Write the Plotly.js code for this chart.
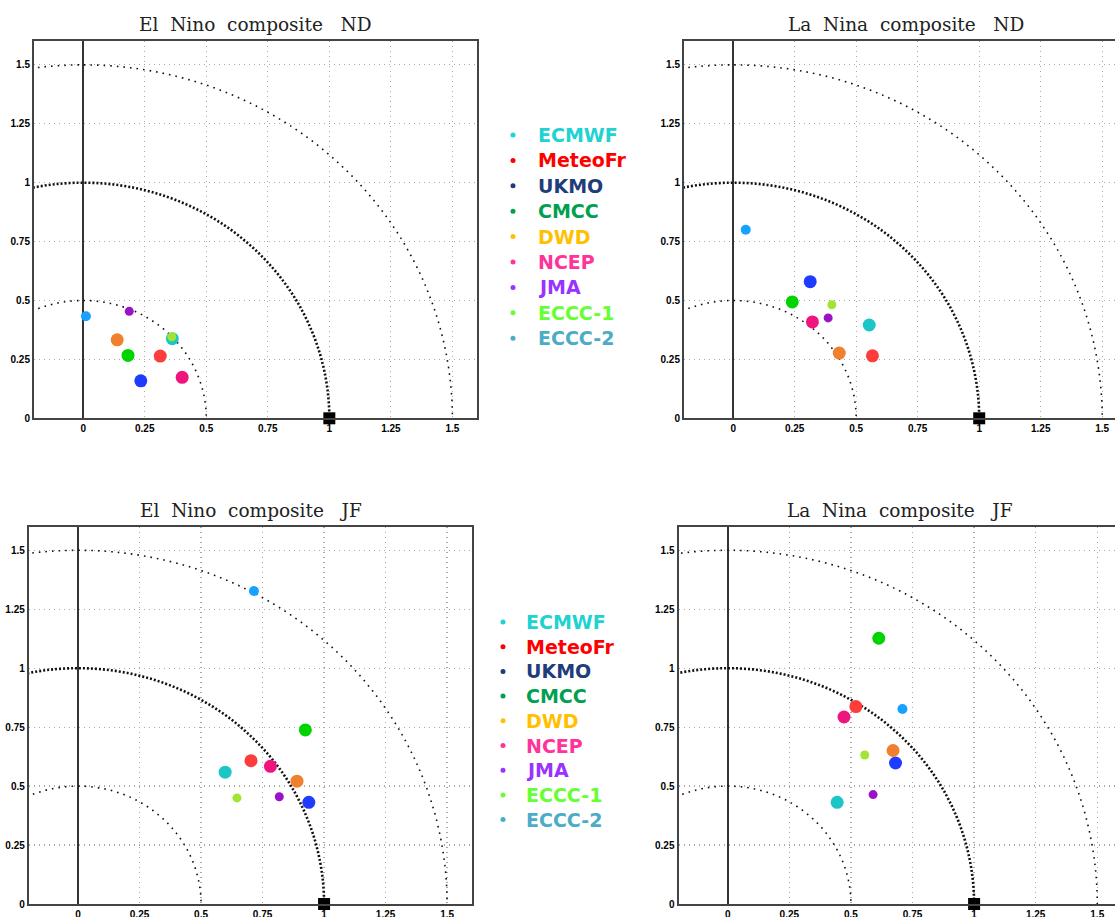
<!DOCTYPE html>
<html>
<head>
<meta charset="utf-8">
<script src="https://cdn.plot.ly/plotly-3.0.1.min.js"></script>
<style>html,body{margin:0;padding:0;background:#fff;}#chart{width:1115px;height:917px;}</style>
</head>
<body>
<div id="chart"></div>
<script>
// ---------- data ----------
const models = ["ECMWF","MeteoFr","UKMO","CMCC","DWD","NCEP","JMA","ECCC-1","ECCC-2"];
const markerColors = ["#1CC6C6","#FF3C3C","#1E3CFF","#00D400","#F0802E","#F0157C","#9A12C8","#A2E434","#18A2FF"];
const legendColors = ["#20D2D2","#FF0000","#1F3D7A","#00A050","#FFC000","#FF3399","#9933FF","#66FF33","#4BACC6"];
const markerSizes = [13,13,13,13,13,13,9,9,10];

const panelTitles = ["El Nino composite   ND","La Nina composite   ND","El Nino composite   JF","La Nina composite   JF"];

// El Nino ND
const enNdX = [0.362,0.313,0.234,0.182,0.138,0.402,0.187,0.360,0.011];
const enNdY = [0.338,0.264,0.159,0.267,0.333,0.174,0.454,0.346,0.433];
// La Nina ND
const lnNdX = [0.553,0.566,0.313,0.240,0.431,0.322,0.386,0.401,0.051];
const lnNdY = [0.396,0.265,0.580,0.494,0.277,0.409,0.426,0.482,0.800];
// El Nino JF
const enJfX = [0.598,0.703,0.938,0.924,0.890,0.782,0.818,0.646,0.715];
const enJfY = [0.559,0.608,0.431,0.738,0.521,0.584,0.455,0.450,1.327];
// La Nina JF
const lnJfX = [0.444,0.520,0.681,0.613,0.671,0.472,0.590,0.556,0.709];
const lnJfY = [0.431,0.837,0.598,1.127,0.651,0.793,0.464,0.632,0.827];

const refX = [1];
const refY = [0];
const tickVals = [0,0.25,0.5,0.75,1,1.25,1.5];
const tickText = ["0","0.25","0.5","0.75","1","1.25","1.5"];
const radii = [0.5,1,1.5];

// ---------- layout helpers ----------
const W = 1115, H = 917;
const px = v => v / W;
const py = v => 1 - v / H;

// pixel boxes of each plot area and x-range max
const boxes = [
  {l:34,   r:477,  t:41.3,  b:418.3, xmax:1.6,   tx:255.5, ty:25},
  {l:684,  r:1115, t:41.3,  b:418.3, xmax:1.552, tx:906,   ty:25},
  {l:28.8, r:471.7,t:526.7, b:904,   xmax:1.6,   tx:250.5, ty:510},
  {l:678.5,r:1115, t:526.7, b:904,   xmax:1.572, tx:900,   ty:510}
];
const panelData = [[enNdX,enNdY],[lnNdX,lnNdY],[enJfX,enJfY],[lnJfX,lnJfY]];

const traces = [];
const layout = {
  width: W, height: H,
  margin: {l:0,r:0,t:0,b:0},
  paper_bgcolor: "#fff", plot_bgcolor: "#fff",
  showlegend: false,
  font: {family: "Liberation Sans, Arial, sans-serif", color: "#111"},
  shapes: [], annotations: []
};

const tickFont = {size: 10, family: "Liberation Sans, Arial, sans-serif", color: "#000", weight: "bold"};

boxes.forEach((b, i) => {
  const n = i + 1;
  const xa = "xaxis" + (n === 1 ? "" : n), ya = "yaxis" + (n === 1 ? "" : n);
  const xr = "x" + (n === 1 ? "" : n), yr = "y" + (n === 1 ? "" : n);
  const clipped = (b.r >= 1115);
  layout[xa] = {
    domain: [px(b.l), px(b.r)], range: [-0.2, b.xmax], anchor: yr,
    tickmode: "array", tickvals: tickVals, ticktext: tickText, tickfont: tickFont,
    showgrid: true, gridcolor: "#a8a8a8", griddash: "1px,4px", gridwidth: 1.2,
    zeroline: true, zerolinecolor: "#333", zerolinewidth: 1.6,
    showline: true, linecolor: "#444", linewidth: 2, mirror: true,
    ticks: "", fixedrange: true
  };
  layout[ya] = {
    domain: [py(b.b), py(b.t)], range: [0, 1.6], anchor: xr,
    tickmode: "array", tickvals: tickVals, ticktext: tickText, tickfont: tickFont,
    showgrid: true, gridcolor: "#a8a8a8", griddash: "1px,4px", gridwidth: 1.2,
    zeroline: false,
    showline: true, linecolor: "#444", linewidth: 2, mirror: clipped ? false : true,
    ticks: "", fixedrange: true
  };
  // reference circles
  radii.forEach(r => {
    layout.shapes.push({
      type: "circle", xref: xr, yref: yr, x0: -r, x1: r, y0: -r, y1: r,
      line: {color: "#111", width: r === 1 ? 2.6 : 1.6, dash: r === 1 ? "2px,2px" : "1.6px,5px"},
      layer: "between"
    });
  });
  // model points
  const d = panelData[i];
  traces.push({
    type: "scatter", mode: "markers", x: d[0], y: d[1], xaxis: xr, yaxis: yr,
    text: models, hoverinfo: "text",
    marker: {color: markerColors, size: markerSizes, opacity: 1, line: {width: 0}}
  });
  // reference square
  traces.push({
    type: "scatter", mode: "markers", x: refX, y: refY, xaxis: xr, yaxis: yr,
    cliponaxis: false, hoverinfo: "skip",
    marker: {symbol: "square", color: "#000", size: 12, opacity: 1}
  });
  // panel title
  layout.annotations.push({
    text: panelTitles[i].split(" ").filter(s => s.length).join("&nbsp;&nbsp;")
          .replace("composite&nbsp;&nbsp;", "composite&nbsp;&nbsp;&nbsp;"),
    xref: "paper", yref: "paper",
    x: px(b.tx), y: py(b.ty), xanchor: "center", yanchor: "middle", showarrow: false,
    font: {family: "DejaVu Serif, Liberation Serif, serif", size: 18.5, color: "#222"}
  });
});

// legends (two copies)
const legendBlocks = [
  {dotX: 513, textX: 536, y0: 135, dy: 25.4},
  {dotX: 503, textX: 524, y0: 622, dy: 24.7}
];
legendBlocks.forEach(lb => {
  models.forEach((m, k) => {
    const yc = lb.y0 + k * lb.dy;
    layout.annotations.push({
      text: m, xref: "paper", yref: "paper", x: px(lb.textX), y: py(yc),
      xanchor: "left", yanchor: "middle", showarrow: false,
      font: {family: "DejaVu Sans, Verdana, sans-serif", size: 19, color: legendColors[k], weight: "bold"}
    });
    layout.shapes.push({
      type: "circle", xref: "paper", yref: "paper",
      xsizemode: "pixel", ysizemode: "pixel", xanchor: px(lb.dotX), yanchor: py(yc),
      x0: -2.5, x1: 2.5, y0: -2.5, y1: 2.5,
      fillcolor: legendColors[k], line: {width: 0}
    });
  });
});

Plotly.newPlot("chart", traces, layout, {displayModeBar: false, staticPlot: true});
</script>
</body>
</html>
